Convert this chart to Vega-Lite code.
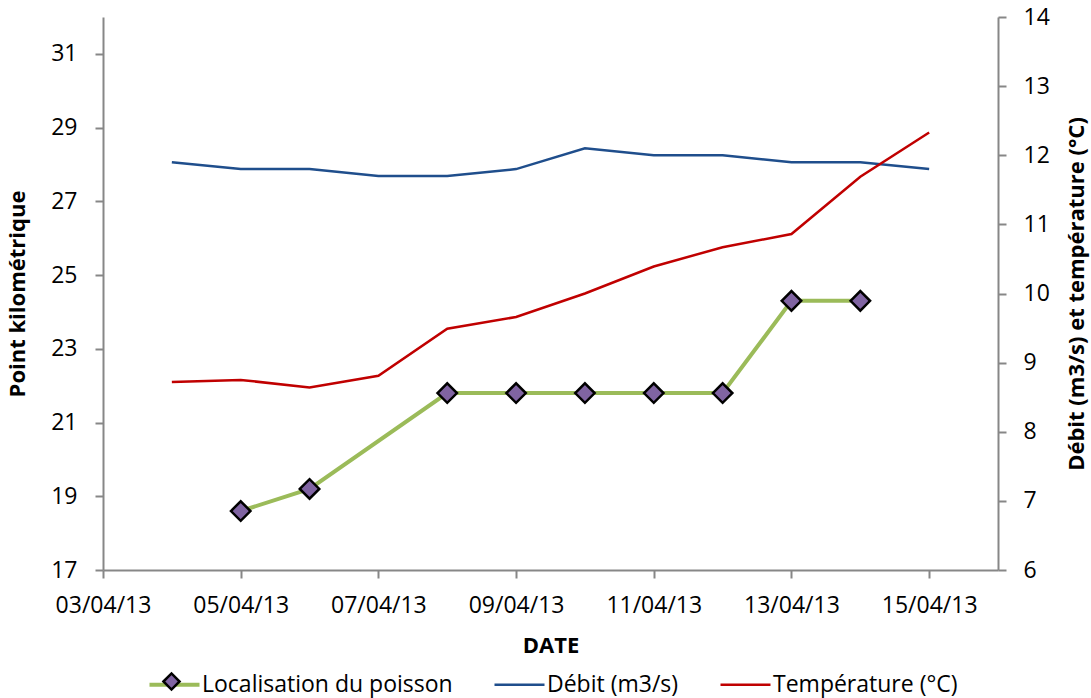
{
  "$schema": "https://vega.github.io/schema/vega-lite/v6.json",
  "width": 895,
  "height": 553,
  "autosize": {"type": "none"},
  "padding": {"left": 103, "top": 17, "right": 93, "bottom": 128},
  "background": "white",
  "config": {
    "view": {"stroke": null},
    "font": "Open Sans",
    "axis": {
      "grid": false,
      "domainColor": "#878787",
      "domainWidth": 2,
      "tickColor": "#878787",
      "tickWidth": 2,
      "tickSize": 8,
      "labelFont": "Open Sans",
      "labelFontSize": 23,
      "labelColor": "#000000",
      "titleFont": "Open Sans",
      "titleFontSize": 22,
      "titleFontWeight": "bold",
      "titleColor": "#000000"
    },
    "legend": {
      "labelFont": "Open Sans",
      "labelFontSize": 23,
      "labelColor": "#000000",
      "labelLimit": 400,
      "padding": 0
    }
  },
  "data": {
    "values": [
      {"date": "2013-04-05T00:00:00", "serie": "Localisation du poisson", "valeur": 18.6},
      {"date": "2013-04-06T00:00:00", "serie": "Localisation du poisson", "valeur": 19.2},
      {"date": "2013-04-08T00:00:00", "serie": "Localisation du poisson", "valeur": 21.8},
      {"date": "2013-04-09T00:00:00", "serie": "Localisation du poisson", "valeur": 21.8},
      {"date": "2013-04-10T00:00:00", "serie": "Localisation du poisson", "valeur": 21.8},
      {"date": "2013-04-11T00:00:00", "serie": "Localisation du poisson", "valeur": 21.8},
      {"date": "2013-04-12T00:00:00", "serie": "Localisation du poisson", "valeur": 21.8},
      {"date": "2013-04-13T00:00:00", "serie": "Localisation du poisson", "valeur": 24.3},
      {"date": "2013-04-14T00:00:00", "serie": "Localisation du poisson", "valeur": 24.3},

      {"date": "2013-04-04T00:00:00", "serie": "Débit (m3/s)", "valeur": 11.9},
      {"date": "2013-04-05T00:00:00", "serie": "Débit (m3/s)", "valeur": 11.8},
      {"date": "2013-04-06T00:00:00", "serie": "Débit (m3/s)", "valeur": 11.8},
      {"date": "2013-04-07T00:00:00", "serie": "Débit (m3/s)", "valeur": 11.7},
      {"date": "2013-04-08T00:00:00", "serie": "Débit (m3/s)", "valeur": 11.7},
      {"date": "2013-04-09T00:00:00", "serie": "Débit (m3/s)", "valeur": 11.8},
      {"date": "2013-04-10T00:00:00", "serie": "Débit (m3/s)", "valeur": 12.1},
      {"date": "2013-04-11T00:00:00", "serie": "Débit (m3/s)", "valeur": 12.0},
      {"date": "2013-04-12T00:00:00", "serie": "Débit (m3/s)", "valeur": 12.0},
      {"date": "2013-04-13T00:00:00", "serie": "Débit (m3/s)", "valeur": 11.9},
      {"date": "2013-04-14T00:00:00", "serie": "Débit (m3/s)", "valeur": 11.9},
      {"date": "2013-04-15T00:00:00", "serie": "Débit (m3/s)", "valeur": 11.8},

      {"date": "2013-04-04T00:00:00", "serie": "Température (°C)", "valeur": 8.72},
      {"date": "2013-04-05T00:00:00", "serie": "Température (°C)", "valeur": 8.75},
      {"date": "2013-04-06T00:00:00", "serie": "Température (°C)", "valeur": 8.64},
      {"date": "2013-04-07T00:00:00", "serie": "Température (°C)", "valeur": 8.81},
      {"date": "2013-04-08T00:00:00", "serie": "Température (°C)", "valeur": 9.49},
      {"date": "2013-04-09T00:00:00", "serie": "Température (°C)", "valeur": 9.66},
      {"date": "2013-04-10T00:00:00", "serie": "Température (°C)", "valeur": 10.0},
      {"date": "2013-04-11T00:00:00", "serie": "Température (°C)", "valeur": 10.39},
      {"date": "2013-04-12T00:00:00", "serie": "Température (°C)", "valeur": 10.67},
      {"date": "2013-04-13T00:00:00", "serie": "Température (°C)", "valeur": 10.86},
      {"date": "2013-04-14T00:00:00", "serie": "Température (°C)", "valeur": 11.69},
      {"date": "2013-04-15T00:00:00", "serie": "Température (°C)", "valeur": 12.33}
    ]
  },
  "encoding": {
    "x": {
      "field": "date",
      "type": "temporal",
      "scale": {
        "domain": [
          {"year": 2013, "month": 4, "date": 3},
          {"year": 2013, "month": 4, "date": 16}
        ]
      },
      "axis": {
        "title": "DATE",
        "format": "%d/%m/%y",
        "labelPadding": 16,
        "titlePadding": 18,
        "labelFlush": false,
        "labelOverlap": false,
        "values": [
          {"year": 2013, "month": 4, "date": 3},
          {"year": 2013, "month": 4, "date": 5},
          {"year": 2013, "month": 4, "date": 7},
          {"year": 2013, "month": 4, "date": 9},
          {"year": 2013, "month": 4, "date": 11},
          {"year": 2013, "month": 4, "date": 13},
          {"year": 2013, "month": 4, "date": 15}
        ]
      }
    }
  },
  "layer": [
    {
      "transform": [{"filter": "datum.serie === 'Localisation du poisson'"}],
      "encoding": {
        "y": {
          "field": "valeur",
          "type": "quantitative",
          "scale": {"domain": [17, 32], "nice": false, "zero": false},
          "axis": {
            "orient": "left",
            "title": "Point kilométrique",
            "values": [17, 19, 21, 23, 25, 27, 29, 31],
            "labelPadding": 18,
            "titlePadding": 21
          }
        }
      },
      "layer": [
        {
          "mark": {"type": "line", "strokeWidth": 4},
          "encoding": {
            "stroke": {
              "field": "serie",
              "type": "nominal",
              "scale": {
                "domain": ["Localisation du poisson", "Débit (m3/s)", "Température (°C)"],
                "range": ["#9BBB59", "#1F4E8C", "#C00000"]
              },
              "legend": {
                "title": null,
                "orient": "none",
                "direction": "horizontal",
                "legendX": 60,
                "legendY": 656,
                "symbolType": "stroke",
                "symbolSize": 2500,
                "symbolStrokeWidth": 3,
                "labelOffset": 16,
                "columnPadding": 36,
                "encode": {
                  "symbols": {
                    "update": {
                      "strokeWidth": {"signal": "datum.value === 'Localisation du poisson' ? 4 : 2.5"}
                    }
                  }
                }
              }
            }
          }
        },
        {
          "mark": {"type": "point", "shape": "diamond", "filled": true, "size": 380, "stroke": "#000000", "strokeWidth": 2.5, "opacity": 1},
          "encoding": {
            "fill": {
              "field": "serie",
              "type": "nominal",
              "scale": {"domain": ["Localisation du poisson"], "range": ["#8064A2"]},
              "legend": {
                "title": null,
                "orient": "none",
                "legendX": 57,
                "legendY": 653,
                "symbolType": "diamond",
                "symbolSize": 260,
                "symbolStrokeColor": "#000000",
                "symbolStrokeWidth": 2.5,
                "labelExpr": "''"
              }
            }
          }
        }
      ]
    },
    {
      "transform": [{"filter": "datum.serie !== 'Localisation du poisson'"}],
      "mark": {"type": "line", "strokeWidth": 2.5},
      "encoding": {
        "y": {
          "field": "valeur",
          "type": "quantitative",
          "scale": {"domain": [6, 14], "nice": false, "zero": false},
          "axis": {
            "orient": "right",
            "title": "Débit (m3/s) et température (°C)",
            "titleAngle": 270,
            "values": [6, 7, 8, 9, 10, 11, 12, 13, 14],
            "labelPadding": 17,
            "titlePadding": 39
          }
        },
        "stroke": {"field": "serie", "type": "nominal"}
      }
    }
  ],
  "resolve": {"scale": {"y": "independent"}}
}
